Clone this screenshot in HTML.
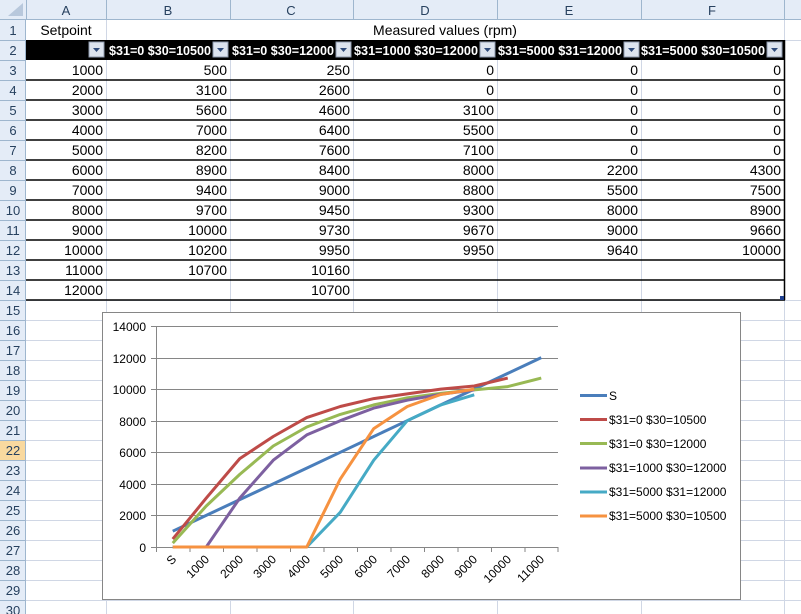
<!DOCTYPE html>
<html><head><meta charset="utf-8"><style>
html,body{margin:0;padding:0;background:#fff;}
svg{display:block;font-family:"Liberation Sans",Arial,sans-serif;}
</style></head><body>
<svg width="801" height="614" viewBox="0 0 801 614" xmlns="http://www.w3.org/2000/svg">
<rect width="801" height="614" fill="#fff"/>
<!-- grid lines -->
<g stroke="#D0D7E5" stroke-width="1">
<line x1="26" y1="40.5" x2="801" y2="40.5"/>
<line x1="26" y1="300.5" x2="801" y2="300.5"/>
<line x1="26" y1="320.5" x2="801" y2="320.5"/>
<line x1="26" y1="340.5" x2="801" y2="340.5"/>
<line x1="26" y1="360.5" x2="801" y2="360.5"/>
<line x1="26" y1="380.5" x2="801" y2="380.5"/>
<line x1="26" y1="400.5" x2="801" y2="400.5"/>
<line x1="26" y1="420.5" x2="801" y2="420.5"/>
<line x1="26" y1="440.5" x2="801" y2="440.5"/>
<line x1="26" y1="460.5" x2="801" y2="460.5"/>
<line x1="26" y1="480.5" x2="801" y2="480.5"/>
<line x1="26" y1="500.5" x2="801" y2="500.5"/>
<line x1="26" y1="520.5" x2="801" y2="520.5"/>
<line x1="26" y1="540.5" x2="801" y2="540.5"/>
<line x1="26" y1="560.5" x2="801" y2="560.5"/>
<line x1="26" y1="580.5" x2="801" y2="580.5"/>
<line x1="26" y1="600.5" x2="801" y2="600.5"/>
<line x1="106.5" y1="20" x2="106.5" y2="614"/>
<line x1="230.5" y1="40" x2="230.5" y2="614"/>
<line x1="353.5" y1="40" x2="353.5" y2="614"/>
<line x1="497.5" y1="40" x2="497.5" y2="614"/>
<line x1="641.5" y1="40" x2="641.5" y2="614"/>
<line x1="784.5" y1="20" x2="784.5" y2="614"/>
</g>
<!-- column header -->
<rect x="0" y="0" width="801" height="20" fill="#E4ECF7"/>
<line x1="0" y1="19.5" x2="801" y2="19.5" stroke="#9EB6CE"/>
<g stroke="#9EB6CE">
<line x1="26.5" y1="0" x2="26.5" y2="20"/><line x1="106.5" y1="0" x2="106.5" y2="20"/>
<line x1="230.5" y1="0" x2="230.5" y2="20"/><line x1="353.5" y1="0" x2="353.5" y2="20"/>
<line x1="497.5" y1="0" x2="497.5" y2="20"/><line x1="641.5" y1="0" x2="641.5" y2="20"/>
<line x1="784.5" y1="0" x2="784.5" y2="20"/>
</g>
<polygon points="8,16 23,16 23,3" fill="#B8C8DC"/>
<g font-size="13" fill="#27415F" text-anchor="middle">
<text x="66" y="15">A</text><text x="168" y="15">B</text><text x="291" y="15">C</text>
<text x="425" y="15">D</text><text x="569" y="15">E</text><text x="712" y="15">F</text>
</g>
<!-- row header -->
<rect x="0" y="20" width="26" height="594" fill="#E4ECF7"/>
<rect x="0" y="440" width="26" height="20" fill="#F9D99F"/>
<line x1="25.5" y1="20" x2="25.5" y2="614" stroke="#9EB6CE"/>
<g stroke="#9EB6CE">
<line x1="0" y1="40.5" x2="26" y2="40.5"/><line x1="0" y1="60.5" x2="26" y2="60.5"/><line x1="0" y1="80.5" x2="26" y2="80.5"/><line x1="0" y1="100.5" x2="26" y2="100.5"/><line x1="0" y1="120.5" x2="26" y2="120.5"/><line x1="0" y1="140.5" x2="26" y2="140.5"/><line x1="0" y1="160.5" x2="26" y2="160.5"/><line x1="0" y1="180.5" x2="26" y2="180.5"/><line x1="0" y1="200.5" x2="26" y2="200.5"/><line x1="0" y1="220.5" x2="26" y2="220.5"/><line x1="0" y1="240.5" x2="26" y2="240.5"/><line x1="0" y1="260.5" x2="26" y2="260.5"/><line x1="0" y1="280.5" x2="26" y2="280.5"/><line x1="0" y1="300.5" x2="26" y2="300.5"/><line x1="0" y1="320.5" x2="26" y2="320.5"/><line x1="0" y1="340.5" x2="26" y2="340.5"/><line x1="0" y1="360.5" x2="26" y2="360.5"/><line x1="0" y1="380.5" x2="26" y2="380.5"/><line x1="0" y1="400.5" x2="26" y2="400.5"/><line x1="0" y1="420.5" x2="26" y2="420.5"/><line x1="0" y1="440.5" x2="26" y2="440.5"/><line x1="0" y1="460.5" x2="26" y2="460.5"/><line x1="0" y1="480.5" x2="26" y2="480.5"/><line x1="0" y1="500.5" x2="26" y2="500.5"/><line x1="0" y1="520.5" x2="26" y2="520.5"/><line x1="0" y1="540.5" x2="26" y2="540.5"/><line x1="0" y1="560.5" x2="26" y2="560.5"/><line x1="0" y1="580.5" x2="26" y2="580.5"/><line x1="0" y1="600.5" x2="26" y2="600.5"/>
</g>
<g font-size="13" fill="#27415F" text-anchor="middle">
<text x="13" y="35">1</text><text x="13" y="55">2</text><text x="13" y="75">3</text><text x="13" y="95">4</text><text x="13" y="115">5</text><text x="13" y="135">6</text><text x="13" y="155">7</text><text x="13" y="175">8</text><text x="13" y="195">9</text><text x="13" y="215">10</text><text x="13" y="235">11</text><text x="13" y="255">12</text><text x="13" y="275">13</text><text x="13" y="295">14</text><text x="13" y="315">15</text><text x="13" y="335">16</text><text x="13" y="355">17</text><text x="13" y="375">18</text><text x="13" y="395">19</text><text x="13" y="415">20</text><text x="13" y="435">21</text><text x="13" y="455">22</text><text x="13" y="475">23</text><text x="13" y="495">24</text><text x="13" y="515">25</text><text x="13" y="535">26</text><text x="13" y="555">27</text><text x="13" y="575">28</text><text x="13" y="595">29</text><text x="13" y="615">30</text>
</g>
<!-- row 1 -->
<rect x="107" y="21" width="677" height="19" fill="#fff"/>
<g font-size="14" fill="#000">
<text x="66" y="35" text-anchor="middle">Setpoint</text>
<text x="445" y="35" text-anchor="middle">Measured values (rpm)</text>
</g>
<!-- row 2 -->
<rect x="26" y="40" width="759" height="20" fill="#000"/>
<g font-size="12.5" font-weight="bold" fill="#fff" text-anchor="end">
<text x="211" y="55" textLength="102" lengthAdjust="spacingAndGlyphs">$31=0 $30=10500</text>
<text x="334" y="55" textLength="102" lengthAdjust="spacingAndGlyphs">$31=0 $30=12000</text>
<text x="478" y="55" textLength="124" lengthAdjust="spacingAndGlyphs">$31=1000 $30=12000</text>
<text x="622" y="55" textLength="124" lengthAdjust="spacingAndGlyphs">$31=5000 $31=12000</text>
<text x="765" y="55" textLength="124" lengthAdjust="spacingAndGlyphs">$31=5000 $30=10500</text>
</g>
<g>
<g transform="translate(89,42)"><rect width="15" height="15" fill="#DCE3EE" stroke="#8E9AAD"/><polygon points="4,6 11,6 7.5,10" fill="#2E4A7A"/></g>
<g transform="translate(213,42)"><rect width="15" height="15" fill="#DCE3EE" stroke="#8E9AAD"/><polygon points="4,6 11,6 7.5,10" fill="#2E4A7A"/></g>
<g transform="translate(336,42)"><rect width="15" height="15" fill="#DCE3EE" stroke="#8E9AAD"/><polygon points="4,6 11,6 7.5,10" fill="#2E4A7A"/></g>
<g transform="translate(480,42)"><rect width="15" height="15" fill="#DCE3EE" stroke="#8E9AAD"/><polygon points="4,6 11,6 7.5,10" fill="#2E4A7A"/></g>
<g transform="translate(624,42)"><rect width="15" height="15" fill="#DCE3EE" stroke="#8E9AAD"/><polygon points="4,6 11,6 7.5,10" fill="#2E4A7A"/></g>
<g transform="translate(767,42)"><rect width="15" height="15" fill="#DCE3EE" stroke="#8E9AAD"/><polygon points="4,6 11,6 7.5,10" fill="#2E4A7A"/></g>
</g>
<!-- table borders -->
<g stroke="#000" stroke-width="1.5">
<line x1="26" y1="80" x2="785" y2="80"/><line x1="26" y1="100" x2="785" y2="100"/><line x1="26" y1="120" x2="785" y2="120"/><line x1="26" y1="140" x2="785" y2="140"/><line x1="26" y1="160" x2="785" y2="160"/><line x1="26" y1="180" x2="785" y2="180"/><line x1="26" y1="200" x2="785" y2="200"/><line x1="26" y1="220" x2="785" y2="220"/><line x1="26" y1="240" x2="785" y2="240"/><line x1="26" y1="260" x2="785" y2="260"/><line x1="26" y1="280" x2="785" y2="280"/><line x1="26" y1="300" x2="785" y2="300"/>
<line x1="784.5" y1="40" x2="784.5" y2="300"/>
</g>
<rect x="780" y="296" width="4" height="4" fill="#1F3F8F"/>
<!-- data -->
<g font-size="14" fill="#000" text-anchor="end">
<text x="103" y="75">1000</text><text x="227" y="75">500</text><text x="350" y="75">250</text><text x="494" y="75">0</text><text x="638" y="75">0</text><text x="781" y="75">0</text>
<text x="103" y="95">2000</text><text x="227" y="95">3100</text><text x="350" y="95">2600</text><text x="494" y="95">0</text><text x="638" y="95">0</text><text x="781" y="95">0</text>
<text x="103" y="115">3000</text><text x="227" y="115">5600</text><text x="350" y="115">4600</text><text x="494" y="115">3100</text><text x="638" y="115">0</text><text x="781" y="115">0</text>
<text x="103" y="135">4000</text><text x="227" y="135">7000</text><text x="350" y="135">6400</text><text x="494" y="135">5500</text><text x="638" y="135">0</text><text x="781" y="135">0</text>
<text x="103" y="155">5000</text><text x="227" y="155">8200</text><text x="350" y="155">7600</text><text x="494" y="155">7100</text><text x="638" y="155">0</text><text x="781" y="155">0</text>
<text x="103" y="175">6000</text><text x="227" y="175">8900</text><text x="350" y="175">8400</text><text x="494" y="175">8000</text><text x="638" y="175">2200</text><text x="781" y="175">4300</text>
<text x="103" y="195">7000</text><text x="227" y="195">9400</text><text x="350" y="195">9000</text><text x="494" y="195">8800</text><text x="638" y="195">5500</text><text x="781" y="195">7500</text>
<text x="103" y="215">8000</text><text x="227" y="215">9700</text><text x="350" y="215">9450</text><text x="494" y="215">9300</text><text x="638" y="215">8000</text><text x="781" y="215">8900</text>
<text x="103" y="235">9000</text><text x="227" y="235">10000</text><text x="350" y="235">9730</text><text x="494" y="235">9670</text><text x="638" y="235">9000</text><text x="781" y="235">9660</text>
<text x="103" y="255">10000</text><text x="227" y="255">10200</text><text x="350" y="255">9950</text><text x="494" y="255">9950</text><text x="638" y="255">9640</text><text x="781" y="255">10000</text>
<text x="103" y="275">11000</text><text x="227" y="275">10700</text><text x="350" y="275">10160</text>
<text x="103" y="295">12000</text><text x="350" y="295">10700</text>
</g>
<!-- chart -->
<rect x="102.5" y="312.5" width="638" height="287" fill="#fff" stroke="#868686"/>
<g stroke="#868686" stroke-width="1">
<line x1="151" y1="326.5" x2="558" y2="326.5"/><line x1="151" y1="358.5" x2="558" y2="358.5"/><line x1="151" y1="389.5" x2="558" y2="389.5"/><line x1="151" y1="421.5" x2="558" y2="421.5"/><line x1="151" y1="452.5" x2="558" y2="452.5"/><line x1="151" y1="484.5" x2="558" y2="484.5"/><line x1="151" y1="515.5" x2="558" y2="515.5"/><line x1="151" y1="547.5" x2="558" y2="547.5"/>
<line x1="156.5" y1="326" x2="156.5" y2="547"/>
<line x1="156.5" y1="547" x2="156.5" y2="552"/><line x1="190" y1="547" x2="190" y2="552"/><line x1="223.5" y1="547" x2="223.5" y2="552"/><line x1="257" y1="547" x2="257" y2="552"/><line x1="290.5" y1="547" x2="290.5" y2="552"/><line x1="324" y1="547" x2="324" y2="552"/><line x1="357.5" y1="547" x2="357.5" y2="552"/><line x1="391" y1="547" x2="391" y2="552"/><line x1="424.5" y1="547" x2="424.5" y2="552"/><line x1="458" y1="547" x2="458" y2="552"/><line x1="491.5" y1="547" x2="491.5" y2="552"/><line x1="525" y1="547" x2="525" y2="552"/><line x1="558" y1="547" x2="558" y2="552"/>
</g>
<g font-size="12" fill="#000" text-anchor="end">
<text x="146" y="331">14000</text><text x="146" y="363">12000</text><text x="146" y="394">10000</text><text x="146" y="426">8000</text><text x="146" y="457">6000</text><text x="146" y="489">4000</text><text x="146" y="520">2000</text><text x="146" y="552">0</text>
</g>
<g font-size="12" fill="#000" text-anchor="end">
<text transform="translate(177,560) rotate(-45)">S</text>
<text transform="translate(210,560) rotate(-45)">1000</text>
<text transform="translate(244,560) rotate(-45)">2000</text>
<text transform="translate(277,560) rotate(-45)">3000</text>
<text transform="translate(311,560) rotate(-45)">4000</text>
<text transform="translate(344,560) rotate(-45)">5000</text>
<text transform="translate(378,560) rotate(-45)">6000</text>
<text transform="translate(411,560) rotate(-45)">7000</text>
<text transform="translate(445,560) rotate(-45)">8000</text>
<text transform="translate(478,560) rotate(-45)">9000</text>
<text transform="translate(512,560) rotate(-45)">10000</text>
<text transform="translate(545,560) rotate(-45)">11000</text>
</g>
<g fill="none" stroke-width="3" stroke-linejoin="round">
<polyline stroke="#4A7EBB" points="172.75,531.2 206.25,515.4 239.75,499.6 273.25,483.9 306.75,468.1 340.25,452.3 373.75,436.5 407.25,420.7 440.75,404.9 474.25,389.1 507.75,373.4 541.25,357.6"/>
<polyline stroke="#BE4B48" points="172.75,539.1 206.25,498.1 239.75,458.6 273.25,436.5 306.75,417.6 340.25,406.5 373.75,398.6 407.25,393.9 440.75,389.1 474.25,386.0 507.75,378.1"/>
<polyline stroke="#98B954" points="172.75,543.1 206.25,506.0 239.75,474.4 273.25,446.0 306.75,427.0 340.25,414.4 373.75,404.9 407.25,397.8 440.75,393.4 474.25,389.9 507.75,386.6 541.25,378.1"/>
<polyline stroke="#7D60A0" points="172.75,547 206.25,547 239.75,498.1 273.25,460.2 306.75,434.9 340.25,420.7 373.75,408.1 407.25,400.2 440.75,394.3 474.25,389.9"/>
<polyline stroke="#46AAC5" points="172.75,547 206.25,547 239.75,547 273.25,547 306.75,547 340.25,512.3 373.75,460.2 407.25,420.7 440.75,404.9 474.25,394.8"/>
<polyline stroke="#F69240" points="172.75,547 206.25,547 239.75,547 273.25,547 306.75,547 340.25,479.1 373.75,428.6 407.25,406.5 440.75,394.5 474.25,389.1"/>
</g>
<!-- legend -->
<g stroke-width="3">
<line x1="580" y1="395.5" x2="607" y2="395.5" stroke="#4A7EBB"/>
<line x1="580" y1="419.5" x2="607" y2="419.5" stroke="#BE4B48"/>
<line x1="580" y1="443.5" x2="607" y2="443.5" stroke="#98B954"/>
<line x1="580" y1="468" x2="607" y2="468" stroke="#7D60A0"/>
<line x1="580" y1="492" x2="607" y2="492" stroke="#46AAC5"/>
<line x1="580" y1="516" x2="607" y2="516" stroke="#F69240"/>
</g>
<g font-size="12" fill="#000">
<text x="609" y="400">S</text>
<text x="609" y="424">$31=0 $30=10500</text>
<text x="609" y="448">$31=0 $30=12000</text>
<text x="609" y="472">$31=1000 $30=12000</text>
<text x="609" y="496">$31=5000 $31=12000</text>
<text x="609" y="520">$31=5000 $30=10500</text>
</g>
</svg>
</body></html>
